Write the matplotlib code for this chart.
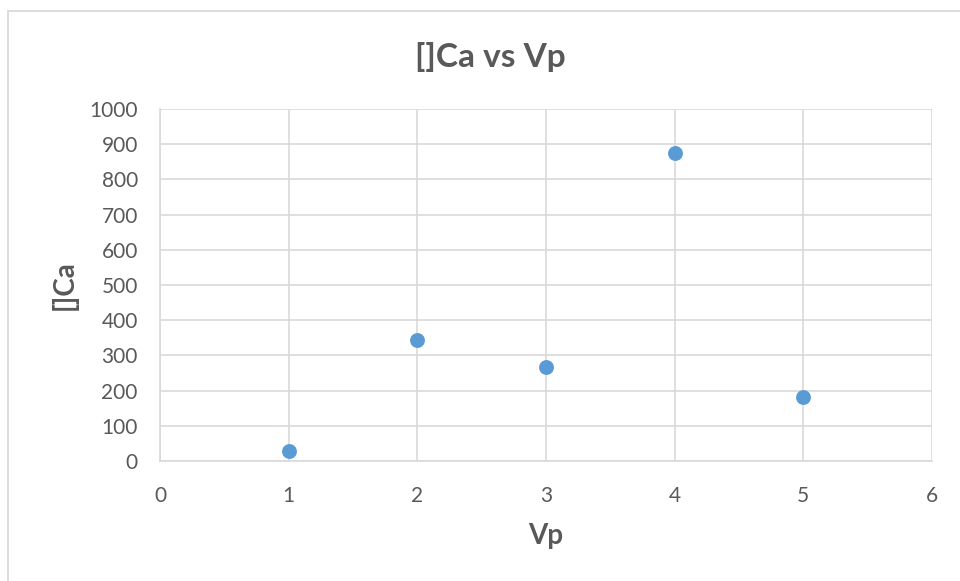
import matplotlib
matplotlib.use("Agg")
import matplotlib.pyplot as plt
from matplotlib.patches import Rectangle

# Data
vp = [1, 2, 3, 4, 5]
ca = [29, 344, 268, 874, 182]
x_ticks = [0, 1, 2, 3, 4, 5, 6]
y_ticks = [0, 100, 200, 300, 400, 500, 600, 700, 800, 900, 1000]

plt.rcParams['font.family'] = ['Lato', 'DejaVu Sans']

W, H = 960, 581
fig = plt.figure(figsize=(W / 100, H / 100), dpi=100)

# chart-area border (runs past the right and bottom edges)
top = 1 - 10.5 / H
fig.patches.append(Rectangle((8 / W, -0.2), 1.2, top + 0.2, transform=fig.transFigure,
                             fill=False, edgecolor='#D9D9D9', linewidth=1.3))

ax = fig.add_axes([160 / W, 1 - 461 / H, (932 - 160) / W, (461 - 109) / H])
ax.scatter(vp, ca, s=115, color='#5B9BD5', zorder=3, linewidths=0)

ax.set_xlim(0, 6)
ax.set_ylim(0, 1000)
ax.set_xticks(x_ticks)
ax.set_yticks(y_ticks)
ax.grid(True, color='#D9D9D9', linewidth=1.2)
ax.set_axisbelow(True)
for side in ['top', 'right']:
    ax.spines[side].set_visible(False)
for side in ['left', 'bottom']:
    ax.spines[side].set_color('#D9D9D9')
    ax.spines[side].set_linewidth(1.2)
ax.tick_params(axis='y', length=0, labelsize=15, colors='#595959', pad=16)
ax.tick_params(axis='x', length=0, labelsize=15, colors='#595959', pad=18)

fig.text(490 / W, 1 - 57 / H, '[]Ca vs Vp', fontsize=24, fontweight='bold',
         color='#595959', ha='center', va='center')
ax.set_xlabel('Vp', fontsize=20, fontweight='bold', color='#595959', labelpad=12)
ax.set_ylabel('[]Ca', fontsize=20, fontweight='bold', color='#595959', labelpad=8)

fig.savefig('out.png', dpi=100)
